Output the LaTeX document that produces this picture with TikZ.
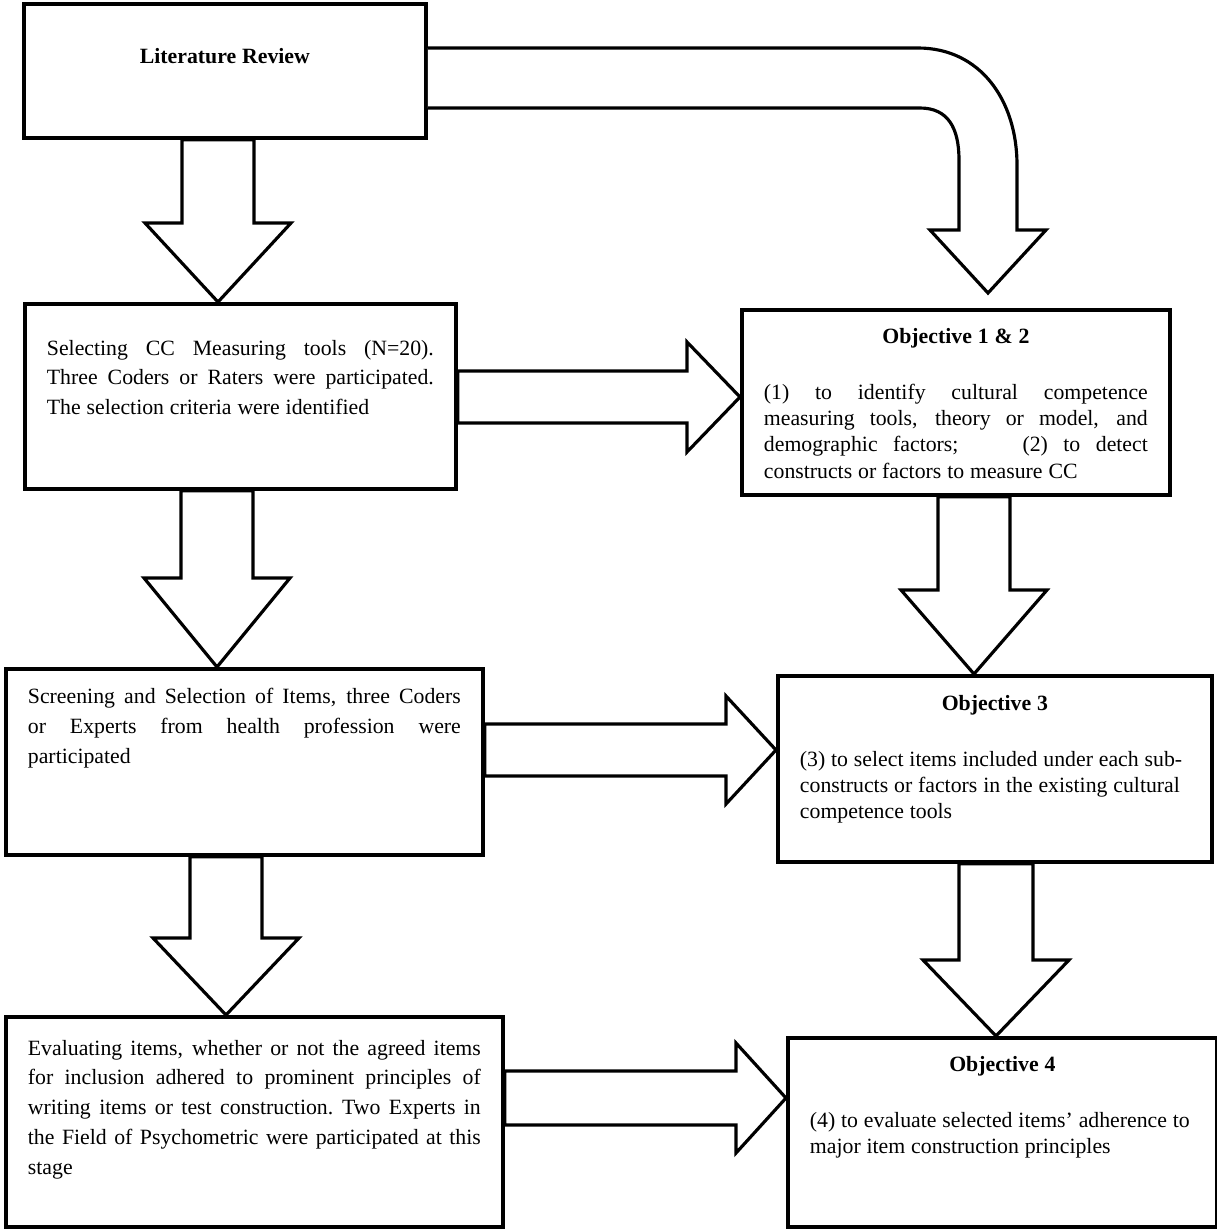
\documentclass[tikz,border=0pt]{standalone}
\usepackage{fontspec}
\setmainfont{Liberation Serif}
\usetikzlibrary{calc}

% one justified line, spread over the text width
\newcommand{\jline}[1]{\leavevmode\hbox to \linewidth{\spaceskip=0.25em plus 1fil\relax #1}}
% text of a box: top gap, box height, baselineskip, lines
\newcommand{\boxbody}[4]{\parbox[c][#2][t]{\linewidth}{\fontsize{12.4}{#3}\selectfont\vspace*{#1}#4}}
% hollow block arrows: axis, shaft half, head half, from, head start, to
\newcommand{\downblock}[6]{%
  \draw[blk] (#1-#2,0 |- #4) -- (#1-#2,#5) -- (#1-#3,#5) -- (#1,0 |- #6)
    -- (#1+#3,#5) -- (#1+#2,#5) -- (#1+#2,0 |- #4) -- cycle;}
\newcommand{\rightblock}[6]{%
  \draw[blk] (#4 |- 0,#1-#2) -- (#5,#1-#2) -- (#5,#1-#3) -- (#6 |- 0,#1)
    -- (#5,#1+#3) -- (#5,#1+#2) -- (#4 |- 0,#1+#2) -- cycle;}

\begin{document}
\begin{tikzpicture}[x=0.02cm, y=-0.02cm,
  box/.style={draw, line width=2.2pt, anchor=north west, inner xsep=0.44cm, inner ysep=0pt},
  blk/.style={draw, fill=white, line width=1.8pt, line join=miter}]

\useasboundingbox (0,0) rectangle (1217,1231);

% left column
\node[box, text width=7.16cm] (lit) at (22,2)
  {\boxbody{0.88cm}{2.68cm}{17}{\makebox[\linewidth]{\bfseries Literature Review}}};
\node[box, text width=7.74cm] (select) at (23,302)
  {\boxbody{0.72cm}{3.70cm}{17}{%
    \jline{Selecting CC Measuring tools (N=20).}\\
    \jline{Three Coders or Raters were participated.}\\
    The selection criteria were identified}};
\node[box, text width=8.66cm] (screen) at (4,667)
  {\boxbody{0.38cm}{3.72cm}{17}{%
    \jline{Screening and Selection of Items, three Coders}\\
    \jline{or Experts from health profession were}\\
    participated}};
\node[box, text width=9.06cm] (evaluate) at (4,1015)
  {\boxbody{0.46cm}{4.20cm}{17}{%
    \jline{Evaluating items, whether or not the agreed items}\\
    \jline{for inclusion adhered to prominent principles of}\\
    \jline{writing items or test construction. Two Experts in}\\
    \jline{the Field of Psychometric were participated at this}\\
    stage}};

% right column
\node[box, text width=7.68cm] (obj12) at (740,308)
  {\boxbody{0.36cm}{3.70cm}{15}{%
    \makebox[\linewidth]{\bfseries Objective 1 \& 2}\\[16.9pt]
    \jline{(1) to identify cultural competence}\\
    \jline{measuring tools, theory or model, and}\\
    \jline{demographic factors;\hspace{2em} (2) to detect}\\
    constructs or factors to measure CC}};
\node[box, text width=7.80cm] (obj3) at (776,674)
  {\boxbody{0.38cm}{3.72cm}{15}{%
    \makebox[\linewidth]{\bfseries Objective 3}\\[16.9pt]
    (3) to select items included under each sub-\\
    constructs or factors in the existing cultural\\
    competence tools}};
\node[box, text width=7.70cm] (obj4) at (786,1036)
  {\boxbody{0.36cm}{3.78cm}{15}{%
    \makebox[\linewidth]{\bfseries Objective 4}\\[16.9pt]
    (4) to evaluate selected items' adherence to\\
    major item construction principles}};

% block arrows
\downblock{218}{36}{73}{lit.south}{223}{select.north}
\downblock{217}{36}{73}{select.south}{578}{screen.north}
\downblock{226}{36}{73}{screen.south}{938}{evaluate.north}
\downblock{974}{36}{73}{obj12.south}{590}{obj3.north}
\downblock{996}{37}{73}{obj3.south}{960}{obj4.north}
\rightblock{397}{26}{55}{select.east}{687}{obj12.west}
\rightblock{750}{26}{54}{screen.east}{726}{obj3.west}
\rightblock{1098}{27}{55}{evaluate.east}{736}{obj4.west}

\coordinate (bendtip) at (988,293);
\draw[blk] (lit.east |- 0,48) -- (918,48) .. controls (980,48) and (1017,100) .. (1017,165)
  -- (1017,230) -- (1046,230) -- (bendtip) -- (930,230) -- (959,230) -- (959,160)
  .. controls (959,128) and (948,108) .. (920,108) -- (lit.east |- 0,108);
\end{tikzpicture}
\end{document}
